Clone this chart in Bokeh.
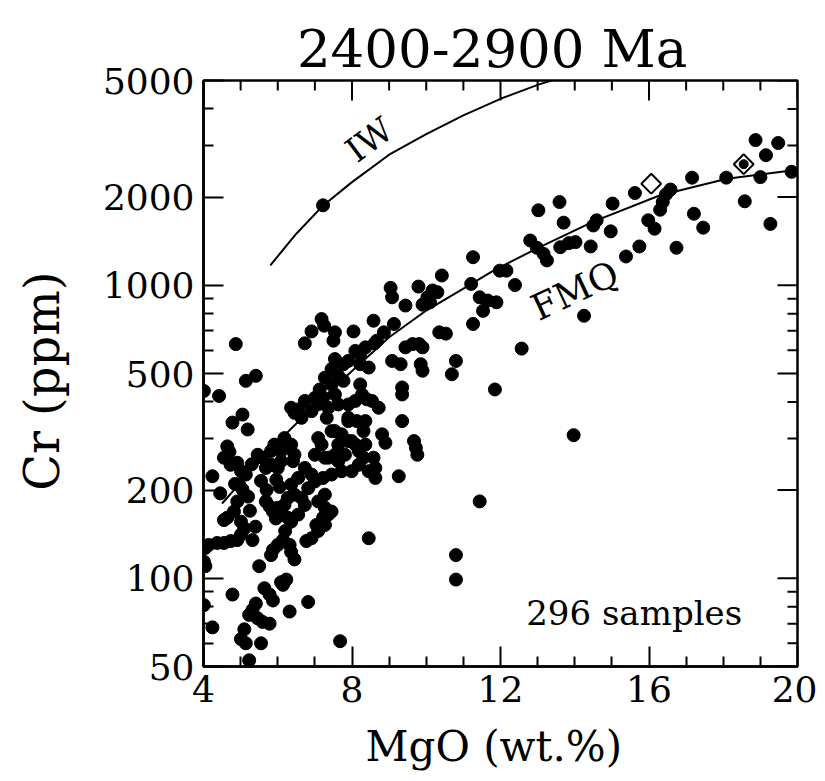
from bokeh.plotting import figure
from bokeh.models import Range1d, FixedTicker, Label
from bokeh.embed import file_html
from bokeh.resources import INLINE
import math

FONT = "DejaVu Serif"

TITLE = "2400-2900  Ma"
X_LABEL = "MgO  (wt.%)"
Y_LABEL = "Cr  (ppm)"
SAMPLE_NOTE = "296 samples"

X_TICKS = [4, 8, 12, 16, 20]
X_MINOR = [5, 6, 7, 9, 10, 11, 13, 14, 15, 17, 18, 19]
Y_TICKS = [50, 100, 200, 500, 1000, 2000, 5000]
Y_MINOR = [60, 70, 80, 90, 300, 400, 600, 700, 800, 900, 3000, 4000]

# buffer curves
IW_MGO = [5.8, 6.5, 7.2, 8.0, 9.0, 10.0, 11.0, 12.0, 13.0, 13.7]
IW_CR = [1170, 1500, 1860, 2250, 2790, 3280, 3800, 4330, 4830, 5150]
FMQ_MGO = [4.5, 5.0, 6.0, 7.0, 8.0, 9.0, 10.0, 11.0, 11.8, 13.0, 14.5, 16.3, 18.1, 20.0]
FMQ_CR = [180, 212, 292, 390, 510, 665, 820, 975, 1120, 1340, 1650, 2030, 2310, 2480]

# filled-circle samples: MgO (wt.%) and Cr (ppm)
HIGH_MGO = [18.87, 19.48, 19.15, 19.0, 19.84, 18.08, 18.58, 19.27, 17.16, 17.21, 17.46, 16.74,
            15.62, 16.58, 16.46, 16.37, 16.30, 15.98, 16.15, 15.74, 15.38, 15.02, 14.97, 14.43,
            14.50, 14.59, 13.59, 13.70, 13.02, 12.80, 12.98, 13.16, 13.25, 13.61, 13.84, 14.02,
            11.98, 12.16, 12.39, 11.89, 14.25, 12.57, 11.85, 13.97, 18.55]
HIGH_CR = [3130, 3060, 2780, 2340, 2440, 2330, 1935, 1620, 2330, 1755, 1573, 1343,
           2065, 2122, 2045, 1924, 1811, 1667, 1560, 1357, 1254, 1900, 1528, 1357,
           1600, 1667, 1924, 1636, 1803, 1422, 1343, 1280, 1216, 1349, 1393, 1404,
           1122, 1122, 1002, 875, 787, 608, 441, 308, 2590]

MID_MGO = [7.22, 11.26, 10.42, 11.21, 9.04, 9.08, 9.79, 10.17, 10.30, 10.03, 9.90, 10.10,
           9.44, 8.58, 8.04, 7.18, 7.25, 6.91, 6.73, 7.54, 7.50, 4.87, 9.13, 8.86,
           8.67, 8.61, 9.44, 9.63, 9.81, 9.90, 8.09, 10.35, 10.53, 11.26, 11.44, 11.66,
           11.53, 8.36, 8.22]
MID_CR = [1875, 1247, 1080, 1011, 980, 910, 990, 960, 947, 910, 859, 875,
          853, 757, 696, 767, 728, 696, 634, 691, 647, 630, 738, 691,
          647, 634, 614, 630, 630, 614, 597, 691, 684, 738, 910, 887,
          818, 614, 582]

LOW_MGO = [7.54, 7.77, 7.90, 8.22, 8.45, 9.08, 9.31, 9.85, 9.90, 10.80, 10.69,
           5.14, 5.41, 4.01, 4.42,
           7.27, 7.45, 7.13, 7.0, 7.22, 7.36, 7.63, 7.54, 7.90, 8.09, 8.22, 8.27, 8.54, 8.72, 8.40,
           9.35, 9.35,
           6.36, 6.55, 6.64, 6.91, 6.73, 7.32, 7.90, 8.36,
           5.05, 4.78, 5.19, 9.35,
           8.81, 8.90, 9.67, 9.72, 9.76,
           4.64, 4.55, 4.73, 4.91, 5.01, 5.14, 4.96, 5.05,
           5.46, 5.59, 5.68, 5.82, 6.0, 6.09, 5.96,
           6.18, 6.27, 6.09, 6.36, 6.45, 6.41,
           6.36, 6.27, 6.18, 6.09, 6.27, 6.36, 6.55, 6.45, 6.55,
           9.26, 4.24,
           5.68, 5.78, 5.87, 6.0,
           4.91, 4.82, 4.64, 4.55,
           5.01, 5.10, 5.01, 4.91, 4.73, 4.55, 4.37, 4.14, 4.05, 4.01, 4.05,
           5.32, 8.45,
           5.87, 6.0, 6.14, 6.32, 6.36, 6.45, 5.82, 5.50,
           4.78, 6.23, 6.09, 6.14, 5.64, 5.78, 5.87,
           5.41, 5.32, 5.23, 5.46, 5.59, 5.78, 6.32, 6.82, 4.24, 4.01,
           5.10, 5.01, 5.14, 5.55, 5.23, 7.68,
           10.80, 10.80, 11.44]
LOW_CR = [560, 538, 552, 538, 524, 552, 538, 538, 511, 552, 497,
          472, 491, 436, 419,
          484, 459, 441, 413, 413, 382, 392, 424, 392, 403, 459, 424, 403, 382, 408,
          448, 424,
          382, 377, 353, 372, 403, 353, 353, 344,
          362, 340, 322, 344,
          310, 290, 294, 279, 264,
          282, 258, 244, 248, 232, 226, 209, 201,
          264, 258, 238, 244, 238, 251, 217,
          301, 279, 272, 286, 264, 251,
          209, 188, 178, 169, 161, 156, 220, 193, 165,
          223, 223,
          183, 176, 169, 174,
          183, 169, 161, 158,
          156, 148, 141, 135, 134, 132, 132, 130, 127, 114, 110,
          135, 137,
          125, 130, 135, 130, 123, 116, 120, 110,
          88, 99, 97, 95, 92.5, 88, 84,
          82, 78, 75, 73, 71, 70, 77, 83, 68, 81,
          67, 62, 60, 60, 52.5, 61,
          120, 99, 183]

CORE_MGO = [7.90, 8.13, 8.31, 8.36, 7.99, 7.72, 7.45, 7.18, 7.0, 7.36, 7.63, 7.81,
            8.18, 8.31, 8.58, 8.63, 8.63, 8.45, 8.18, 7.99, 7.72, 7.45, 7.22, 7.0,
            6.82, 6.64, 6.73, 7.09, 7.27, 7.45, 7.22, 7.04, 7.09, 6.91, 6.77,
            7.27, 7.36, 7.27, 6.91, 6.73, 7.54, 7.90, 7.09, 7.54, 8.09, 7.27, 7.63,
            5.91, 5.82, 6.45, 7.09, 7.45, 7.63, 7.77,
            5.30, 5.55, 5.70, 6.05, 5.20, 4.85, 4.45, 5.40, 6.20, 5.95, 4.70, 5.25]
CORE_CR = [344, 344, 318, 286, 294, 310, 318, 286, 264, 258, 251, 264,
           272, 258, 258, 238, 220, 232, 244, 232, 232, 226, 220, 214,
           203, 188, 178, 183, 174, 169, 161, 152, 145, 137, 134,
           152, 165, 193, 226, 238, 264, 294, 301, 318, 286, 258, 286,
           286, 272, 367, 393, 518, 491, 472,
           245, 215, 200, 205, 190, 210, 195, 150, 145, 160, 270, 170]

# special symbols
OPEN_DIAMOND_MGO = [16.06]
OPEN_DIAMOND_CR = [2222]
FILLED_DIAMOND_MGO = [18.55]
FILLED_DIAMOND_CR = [2590]

X_MIN, X_MAX = X_TICKS[0], X_TICKS[-1]
Y_MIN, Y_MAX = Y_TICKS[0], Y_TICKS[-1]

p = figure(width=817, height=773, output_backend="svg", toolbar_location=None,
           x_range=Range1d(X_MIN, X_MAX), y_range=Range1d(Y_MIN, Y_MAX), y_axis_type="log",
           min_border_left=203, min_border_right=20, min_border_top=80, min_border_bottom=107)

p.background_fill_color = "white"
p.border_fill_color = "white"
p.outline_line_color = "black"
p.outline_line_width = 2.5
p.xgrid.visible = False
p.ygrid.visible = False

p.title.text = TITLE
p.title.text_font = FONT
p.title.text_font_size = "53px"
p.title.text_font_style = "normal"
p.title.align = "center"
p.title.vertical_align = "top"
p.title.standoff = 0
p.title.text_color = "black"

for ax, ticks, minor in [(p.xaxis[0], X_TICKS, X_MINOR), (p.yaxis[0], Y_TICKS, Y_MINOR)]:
    ax.ticker = FixedTicker(ticks=ticks, minor_ticks=minor)
    ax.axis_line_width = 2.5
    ax.axis_line_color = "black"
    ax.major_tick_in = 20
    ax.major_tick_out = 0
    ax.minor_tick_in = 10
    ax.minor_tick_out = 0
    ax.major_tick_line_width = 2
    ax.minor_tick_line_width = 2
    ax.major_tick_line_color = "black"
    ax.minor_tick_line_color = "black"
    ax.major_label_text_font = FONT
    ax.major_label_text_font_size = "36px"
    ax.major_label_text_color = "black"
    ax.axis_label_text_font = FONT
    ax.axis_label_text_font_style = "normal"
    ax.axis_label_text_color = "black"

p.xaxis.axis_label = X_LABEL
p.xaxis.axis_label_text_font_size = "42px"
p.xaxis.major_label_standoff = 9
p.xaxis.axis_label_standoff = 17
p.yaxis.axis_label = Y_LABEL
p.yaxis.axis_label_text_font_size = "48px"
p.yaxis.major_label_standoff = 9
p.yaxis.axis_label_standoff = 30

# mirrored ticks on top and right edges (half of each dash is clipped by the frame)
p.scatter(X_TICKS, [Y_MAX] * len(X_TICKS), marker="dash", angle=math.pi / 2, size=40,
          line_color="black", line_width=2)
p.scatter(X_MINOR, [Y_MAX] * len(X_MINOR), marker="dash", angle=math.pi / 2, size=20,
          line_color="black", line_width=2)
p.scatter([X_MAX] * len(Y_TICKS), Y_TICKS, marker="dash", size=40,
          line_color="black", line_width=2)
p.scatter([X_MAX] * len(Y_MINOR), Y_MINOR, marker="dash", size=20,
          line_color="black", line_width=2)

# curves
p.line(IW_MGO, IW_CR, line_color="black", line_width=2)
p.line(FMQ_MGO, FMQ_CR, line_color="black", line_width=2)

# samples
for xs, ys in [(HIGH_MGO, HIGH_CR), (MID_MGO, MID_CR), (LOW_MGO, LOW_CR), (CORE_MGO, CORE_CR)]:
    p.scatter(xs, ys, marker="circle", size=13, fill_color="black", line_color="black")

p.scatter(OPEN_DIAMOND_MGO, OPEN_DIAMOND_CR, marker="square", angle=math.pi / 4, size=14,
          fill_color="white", line_color="black", line_width=2)
p.scatter(FILLED_DIAMOND_MGO, FILLED_DIAMOND_CR, marker="square", angle=math.pi / 4, size=14,
          fill_color="white", line_color="black", line_width=2)
p.scatter(FILLED_DIAMOND_MGO, FILLED_DIAMOND_CR, marker="circle", size=9,
          fill_color="black", line_color="black")

# texts
p.add_layout(Label(x=8.46, y=3140, text="IW", angle=37, angle_units="deg",
                   text_font=FONT, text_font_size="34px", text_align="center",
                   text_baseline="middle", text_color="black"))
p.add_layout(Label(x=14.0, y=960, text="FMQ", angle=25, angle_units="deg",
                   text_font=FONT, text_font_size="36px", text_align="center",
                   text_baseline="middle", text_color="black"))
p.add_layout(Label(x=15.6, y=76, text=SAMPLE_NOTE,
                   text_font=FONT, text_font_size="34px", text_align="center",
                   text_baseline="middle", text_color="black"))

open("out.html", "w").write(file_html(p, INLINE))
